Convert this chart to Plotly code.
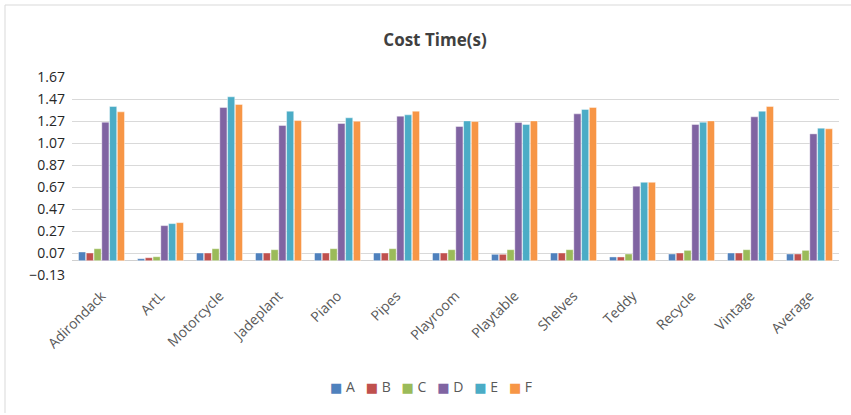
import plotly.graph_objects as go

# Scenes (x categories) and the six methods' cost times in seconds
categories = ["Adirondack", "ArtL", "Motorcycle", "Jadeplant", "Piano", "Pipes",
              "Playroom", "Playtable", "Shelves", "Teddy", "Recycle", "Vintage", "Average"]

series_names = ["A", "B", "C", "D", "E", "F"]
A = [0.079, 0.018, 0.070, 0.070, 0.070, 0.070, 0.070, 0.058, 0.070, 0.034, 0.061, 0.070, 0.061]
B = [0.070, 0.027, 0.070, 0.070, 0.070, 0.070, 0.070, 0.058, 0.070, 0.034, 0.070, 0.070, 0.061]
C = [0.109, 0.036, 0.109, 0.100, 0.109, 0.109, 0.100, 0.100, 0.100, 0.061, 0.094, 0.100, 0.094]
D = [1.259, 0.319, 1.393, 1.229, 1.247, 1.314, 1.220, 1.256, 1.335, 0.677, 1.238, 1.308, 1.153]
E = [1.402, 0.337, 1.490, 1.359, 1.299, 1.326, 1.271, 1.238, 1.375, 0.713, 1.259, 1.359, 1.205]
F = [1.353, 0.346, 1.420, 1.274, 1.268, 1.359, 1.265, 1.271, 1.393, 0.713, 1.271, 1.402, 1.199]

y_ticks = [-0.13, 0.07, 0.27, 0.47, 0.67, 0.87, 1.07, 1.27, 1.47, 1.67]

colors = ["#4F81BD", "#C0504D", "#9BBB59", "#8064A2", "#4BACC6", "#F79646"]
FONT = "Open Sans"
TXT = "#595959"

fig = go.Figure()
for name, vals, col in zip(series_names, [A, B, C, D, E, F], colors):
    fig.add_trace(go.Bar(
        name=name, x=categories, y=vals, showlegend=False,
        marker=dict(color=col, line=dict(color="rgba(255,255,255,0.7)", width=0.6)),
    ))

W, H = 851, 415
L, R, T, B_ = 72, 12, 77, 140
pw, ph = W - L - R, H - T - B_


def px_x(px):
    return (px - L) / pw


def px_y(py):
    return (H - B_ - py) / ph


# Compact key below the plot: coloured square glyph followed by the series name
key_text = "&nbsp;&nbsp;&nbsp;".join(
    f"<span style='color:{c}; font-family:DejaVu Sans; font-size:13px'>■</span> {n}"
    for n, c in zip(series_names, colors)
)

fig.update_layout(
    width=W, height=H,
    margin=dict(l=L, r=R, t=T, b=B_),
    paper_bgcolor="white", plot_bgcolor="white",
    barmode="group", bargap=0.21, bargroupgap=0.08,
    font=dict(family=FONT, color=TXT, size=14),
    title=dict(text="<b>Cost Time(s)</b>", x=435 / W, xref="container", xanchor="center",
               y=1 - 40 / H, yref="container", yanchor="middle",
               font=dict(family=FONT, size=17, color="#404040")),
    annotations=[dict(text=key_text, xref="paper", yref="paper", x=px_x(431), y=px_y(386),
                      xanchor="center", yanchor="middle", showarrow=False,
                      font=dict(family=FONT, size=14, color=TXT))],
    xaxis=dict(tickangle=-45, tickfont=dict(family=FONT, size=14, color=TXT),
               showline=False, showgrid=False, ticks="", ticklabelstandoff=9),
    yaxis=dict(range=[-0.13, 1.67], tickvals=y_ticks, tickformat=".2f",
               tickfont=dict(family=FONT, size=14, color="#262626"),
               showgrid=True, gridcolor="#d9d9d9", gridwidth=1,
               zeroline=True, zerolinecolor="#d0d0d0", zerolinewidth=1,
               showline=False, ticks="", ticklabelstandoff=6),
    shapes=[
        dict(type="line", xref="paper", yref="paper", x0=px_x(5), x1=px_x(851),
             y0=px_y(5), y1=px_y(5), line=dict(color="#d9d9d9", width=1)),
        dict(type="line", xref="paper", yref="paper", x0=px_x(5), x1=px_x(5),
             y0=px_y(5), y1=px_y(413), line=dict(color="#d9d9d9", width=1)),
    ],
)

fig.write_html("out.html")
